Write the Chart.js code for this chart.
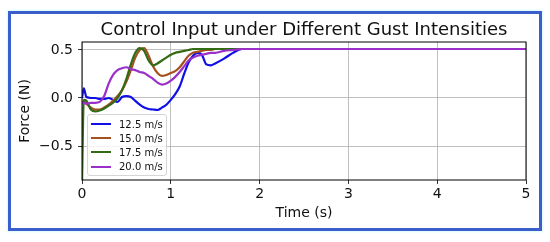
<!DOCTYPE html>
<html>
<head>
<meta charset="utf-8">
<script src="https://cdn.jsdelivr.net/npm/chart.js@4.4.1/dist/chart.umd.min.js"></script>
<style>
  html, body { margin: 0; padding: 0; background: #ffffff; }
  body { width: 550px; height: 242px; position: relative; overflow: hidden; font-family: "DejaVu Sans", sans-serif; }
  #frame { position: absolute; left: 8px; top: 11px; width: 528px; height: 214px; border: 3px solid #3a5fcd; box-shadow: 0 0 2px 1px #d8fbff; }
  #wrap { position: absolute; left: 0; top: 0; width: 550px; height: 242px; }
  #legend { position: absolute; left: 87px; top: 114px; width: 80px; height: 62px; box-sizing: border-box;
    border: 1px solid #d6d6d6; border-radius: 3px; background: rgba(255,255,255,0.8); padding: 2px 0 0 3px; }
  .row { height: 14.2px; display: flex; align-items: center; font-size: 10px; color: #111; white-space: nowrap; }
  .sw { width: 20px; height: 0; border-top: 2px solid; margin-right: 8px; }
</style>
</head>
<body>
<div id="frame"></div>
<div id="wrap"><canvas id="c" width="550" height="242"></canvas></div>
<div id="legend"></div>
<script>
const time = [0, 0.02, 0.05, 0.1, 0.15, 0.2, 0.25, 0.3, 0.35, 0.4, 0.45, 0.5, 0.55, 0.6, 0.65, 0.7, 0.75, 0.8, 0.85, 0.9, 0.95, 1.0, 1.05, 1.1, 1.15, 1.2, 1.25, 1.3, 1.35, 1.4, 1.45, 1.5, 1.6, 1.7, 1.8, 1.9, 2.0, 5.0];
const gust12_5 = [0.0, 0.1, 0.01, 0.0, 0.0, -0.01, -0.01, 0.0, -0.02, -0.04, 0.01, 0.02, 0.01, -0.03, -0.07, -0.1, -0.115, -0.12, -0.125, -0.1, -0.07, -0.02, 0.04, 0.12, 0.25, 0.37, 0.44, 0.47, 0.45, 0.35, 0.34, 0.36, 0.41, 0.47, 0.51, 0.51, 0.51, 0.51];
const gust15_0 = [-0.05, -0.03, -0.06, -0.1, -0.12, -0.12, -0.1, -0.07, -0.03, 0.02, 0.08, 0.17, 0.29, 0.42, 0.5, 0.52, 0.44, 0.33, 0.26, 0.23, 0.24, 0.26, 0.28, 0.32, 0.38, 0.44, 0.47, 0.48, 0.49, 0.5, 0.5, 0.51, 0.51, 0.51, 0.51, 0.51, 0.51, 0.51];
const gust17_5 = [-0.9, -0.02, -0.03, -0.12, -0.14, -0.13, -0.11, -0.08, -0.05, 0.0, 0.08, 0.2, 0.35, 0.47, 0.52, 0.49, 0.39, 0.34, 0.36, 0.39, 0.42, 0.45, 0.47, 0.48, 0.49, 0.5, 0.51, 0.51, 0.51, 0.51, 0.51, 0.51, 0.51, 0.51, 0.51, 0.51, 0.51, 0.51];
const gust20_0 = [-0.05, -0.05, -0.06, -0.05, -0.05, -0.04, 0.02, 0.15, 0.24, 0.29, 0.31, 0.32, 0.3, 0.29, 0.27, 0.26, 0.23, 0.2, 0.16, 0.14, 0.15, 0.18, 0.22, 0.27, 0.33, 0.39, 0.42, 0.44, 0.45, 0.46, 0.47, 0.47, 0.49, 0.5, 0.51, 0.51, 0.51, 0.51];
const seriesLabels = ["12.5 m/s", "15.0 m/s", "17.5 m/s", "20.0 m/s"];
const seriesColors = ["#1010e6", "#a4501f", "#336a14", "#9a30c9"];
const seriesData = [gust12_5, gust15_0, gust17_5, gust20_0];
const xTicks = [0, 1, 2, 3, 4, 5];
const yTicks = [-0.5, 0.0, 0.5];
const chartTitle = "Control Input under Different Gust Intensities";
const xTitle = "Time (s)";
const yTitle = "Force (N)";

const datasets = seriesData.map((vals, i) => ({
  label: seriesLabels[i],
  data: time.map((t, k) => ({ x: t, y: vals[k] })),
  borderColor: seriesColors[i],
  borderWidth: 2.2,
  pointRadius: 0,
  fill: false,
  cubicInterpolationMode: 'monotone',
  order: seriesData.length - i
}));

const legend = document.getElementById('legend');
seriesLabels.forEach((l, i) => {
  const r = document.createElement('div'); r.className = 'row';
  const s = document.createElement('span'); s.className = 'sw'; s.style.borderTopColor = seriesColors[i];
  const t = document.createElement('span'); t.textContent = l;
  r.appendChild(s); r.appendChild(t); legend.appendChild(r);
});

const frameBox = {
  id: 'frameBox',
  afterDatasetsDraw(chart) {
    const { ctx, chartArea: a } = chart;
    ctx.save(); ctx.strokeStyle = '#000'; ctx.lineWidth = 1;
    ctx.strokeRect(a.left, a.top, a.right - a.left, a.bottom - a.top);
    ctx.restore();
  },
  afterDraw(chart) {
    const { ctx, chartArea: a } = chart;
    ctx.save();
    ctx.font = '18px "DejaVu Sans"';
    ctx.fillStyle = '#111';
    ctx.textAlign = 'center';
    ctx.textBaseline = 'alphabetic';
    ctx.fillText(chartTitle, (a.left + a.right) / 2, 35);
    ctx.restore();
  }
};

const fmt = v => (Math.abs(v) < 1e-9 ? 0 : v).toFixed(1).replace('-', '\u2212');

new Chart(document.getElementById('c'), {
  type: 'line',
  data: { datasets },
  options: {
    responsive: false,
    animation: false,
    devicePixelRatio: 1,
    layout: { padding: { left: 0, right: 24, top: 42, bottom: 0 } },
    plugins: {
      legend: { display: false },
      tooltip: { enabled: false },
      title: { display: false }
    },
    scales: {
      x: {
        type: 'linear', min: 0, max: 5,
        afterBuildTicks: s => { s.ticks = xTicks.map(v => ({ value: v })); },
        afterFit: s => { s.height = 62; },
        ticks: { color: '#111', font: { family: 'DejaVu Sans', size: 14 }, padding: 2, maxRotation: 0, callback: v => String(v) },
        grid: { color: '#b0b0b0', lineWidth: 0.8, tickColor: '#000', tickLength: 4 },
        border: { display: false },
        title: { display: true, text: xTitle, color: '#111', font: { family: 'DejaVu Sans', size: 14 }, padding: { top: 0, bottom: 20 } }
      },
      y: {
        type: 'linear', min: -0.854, max: 0.583,
        afterBuildTicks: s => { s.ticks = yTicks.map(v => ({ value: v })); },
        afterFit: s => { s.width = 82; },
        ticks: { color: '#111', font: { family: 'DejaVu Sans', size: 14 }, padding: 5, callback: v => fmt(v) },
        grid: { color: '#b0b0b0', lineWidth: 0.8, tickColor: '#000', tickLength: 4 },
        border: { display: false },
        title: { display: true, text: yTitle, color: '#111', font: { family: 'DejaVu Sans', size: 14 }, padding: { top: 17, bottom: 0 } }
      }
    }
  },
  plugins: [frameBox]
});
</script>
</body>
</html>
